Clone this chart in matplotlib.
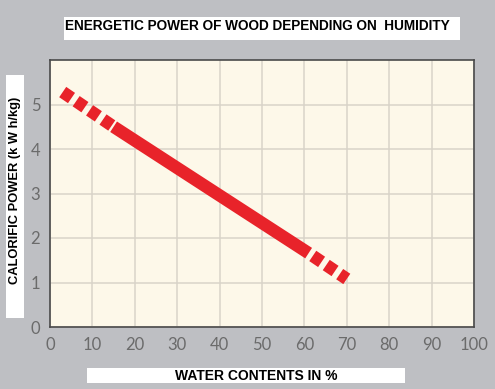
import matplotlib.pyplot as plt
from matplotlib.patches import Rectangle

# datos
x_inicio = [3, 15]
y_inicio = [5.28, 4.5]
x_solido = [15, 61]
y_solido = [4.5, 1.66]
x_final = [61, 70]
y_final = [1.66, 1.08]

xticks = [0, 10, 20, 30, 40, 50, 60, 70, 80, 90, 100]
yticks = [0, 1, 2, 3, 4, 5]

plt.rcParams['font.family'] = ['Liberation Sans', 'DejaVu Sans']

W, H = 495, 389
fig = plt.figure(figsize=(W / 100, H / 100), dpi=100)
fig.patch.set_facecolor('#bebfc3')

ax = fig.add_axes([50 / W, 1 - 327 / H, 424 / W, 267 / H])
ax.set_facecolor('#fdf8e9')
ax.set_xlim(0, 100)
ax.set_ylim(0, 6)
ax.set_xticks(xticks)
ax.set_yticks(yticks)
ax.grid(True, color='#d9d4c9', linewidth=1.1)
ax.set_axisbelow(True)
ax.tick_params(length=0, labelsize=12, labelcolor='#6b6b6b', pad=7)
for lab in ax.get_xticklabels() + ax.get_yticklabels():
    lab.set_family(['Lato', 'DejaVu Sans'])
for s in ax.spines.values():
    s.set_color('#4a4a4a')
    s.set_linewidth(1.2)

rojo = '#e8232a'
lw = 9
ax.plot(x_inicio, y_inicio, color=rojo, lw=lw, dashes=(0.85, 0.45), dash_capstyle='butt')
ax.plot(x_solido, y_solido, color=rojo, lw=lw, solid_capstyle='butt')
ax.plot(x_final, y_final, color=rojo, lw=lw, linestyle=(0.9, (0.85, 0.45)), dash_capstyle='butt')

# cajas blancas de titulos
def caja(x0, y0, x1, y1):
    fig.patches.append(Rectangle((x0 / W, 1 - y1 / H), (x1 - x0) / W, (y1 - y0) / H,
                                 transform=fig.transFigure, facecolor='white', edgecolor='none'))

caja(64, 17, 460, 40)
caja(6, 75, 24, 318)
caja(87, 368, 405, 383)

fig.text(65 / W, 1 - 26 / H, 'ENERGETIC POWER OF WOOD DEPENDING ON  HUMIDITY', ha='left', va='center',
         fontsize=9.8, fontweight='bold', color='black')
fig.text(15 / W, 1 - 190 / H, 'CALORIFIC POWER (k W h/kg)', rotation=90, ha='center', va='center',
         fontsize=9.3, fontweight='bold', color='black')
fig.text(256 / W, 1 - 376 / H, 'WATER CONTENTS IN %', ha='center', va='center',
         fontsize=10, fontweight='bold', color='black')

plt.savefig('out.png', dpi=100, facecolor=fig.get_facecolor())
